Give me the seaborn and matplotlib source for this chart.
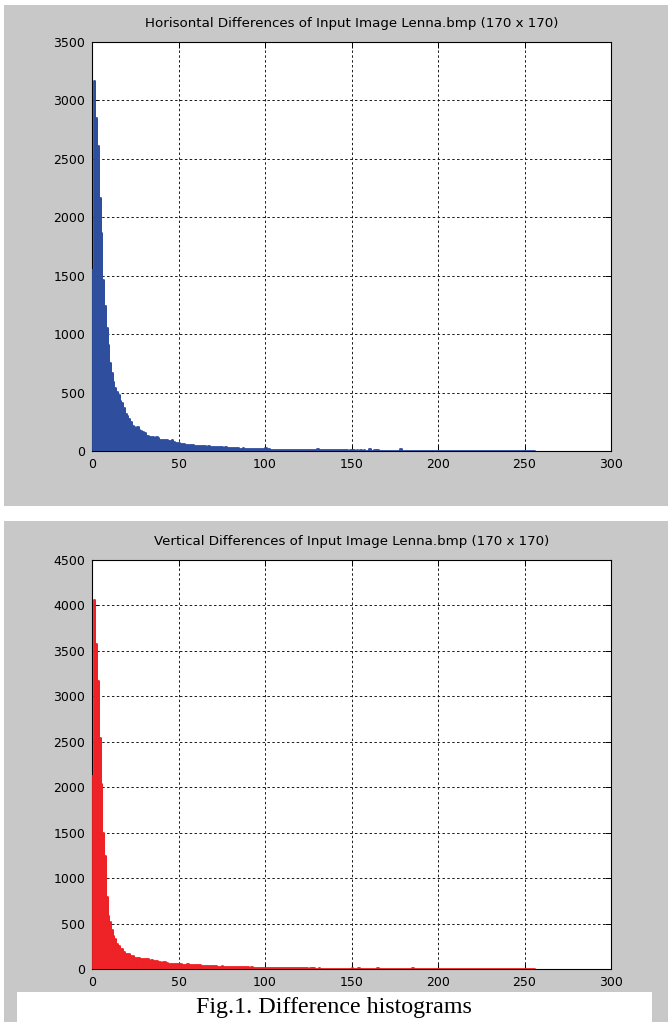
import numpy as np
import pandas as pd
import matplotlib
matplotlib.use("Agg")
import matplotlib.pyplot as plt
import seaborn as sns
from matplotlib.patches import Rectangle

# ---------------- data ----------------
levels = list(range(256))
xticks = [0, 50, 100, 150, 200, 250, 300]
yticks_h = [0, 500, 1000, 1500, 2000, 2500, 3000, 3500]
yticks_v = [0, 500, 1000, 1500, 2000, 2500, 3000, 3500, 4000, 4500]

title_h = "Horisontal Differences of Input Image Lenna.bmp (170 x 170)"
title_v = "Vertical Differences of Input Image Lenna.bmp (170 x 170)"
caption = "Fig.1. Difference histograms"

horizontal_counts = [
    1550, 3170, 2850, 2610, 2165, 1865, 1460, 1240, 1050, 905,
    750, 665, 590, 540, 505, 480, 430, 410, 370, 320,
    300, 275, 250, 215, 205, 200, 205, 180, 175, 165,
    150, 130, 125, 120, 122, 118, 115, 120, 110, 95,
    98, 92, 90, 95, 88, 85, 90, 80, 70, 68,
    66, 62, 60, 58, 52, 55, 50, 48, 52, 46,
    45, 44, 46, 42, 40, 43, 38, 40, 36, 37,
    34, 35, 32, 33, 30, 31, 28, 30, 27, 26,
    27, 24, 25, 22, 23, 21, 20, 22, 19, 18,
    20, 17, 18, 16, 17, 15, 16, 14, 15, 13,
    22, 12, 13, 11, 12, 10, 11, 12, 10, 9,
    10, 11, 9, 10, 8, 9, 10, 8, 9, 8,
    9, 8, 7, 9, 8, 7, 8, 6, 7, 8,
    14, 7, 6, 7, 6, 8, 6, 5, 7, 6,
    6, 5, 6, 5, 7, 12, 5, 6, 4, 5,
    5, 6, 4, 5, 4, 6, 4, 5, 4, 4,
    13, 4, 3, 5, 4, 12, 3, 4, 3, 4,
    3, 4, 3, 2, 3, 4, 2, 3, 14, 2,
    2, 1, 2, 1, 1, 2, 1, 1, 0, 1,
    1, 0, 1, 0, 0, 1, 0, 0, 1, 0,
    0, 0, 1, 0, 0, 0, 0, 1, 0, 0,
    0, 0, 0, 0, 1, 0, 0, 0, 0, 0,
    0, 0, 0, 0, 0, 0, 0, 0, 0, 0,
    0, 0, 0, 0, 0, 0, 0, 0, 0, 0,
    0, 0, 0, 0, 0, 0, 0, 0, 0, 0,
    0, 0, 0, 0, 0, 0,
]

vertical_counts = [
    2120, 4065, 3580, 3170, 2540, 2040, 1500, 1240, 797, 585,
    512, 430, 365, 330, 275, 250, 225, 215, 185, 170,
    165, 160, 140, 140, 125, 120, 118, 122, 115, 110,
    112, 108, 105, 92, 95, 90, 88, 92, 75, 73,
    70, 74, 72, 68, 58, 55, 56, 52, 54, 50,
    55, 52, 45, 44, 42, 50, 43, 42, 40, 44,
    41, 38, 40, 36, 37, 35, 34, 36, 33, 32,
    30, 31, 27, 26, 25, 28, 24, 25, 23, 26,
    24, 22, 21, 20, 19, 20, 18, 19, 17, 18,
    17, 16, 17, 15, 16, 14, 15, 13, 14, 12,
    12, 11, 12, 10, 11, 10, 9, 10, 9, 8,
    9, 8, 9, 8, 7, 8, 7, 8, 7, 6,
    7, 6, 7, 6, 6, 5, 6, 5, 6, 5,
    5, 6, 5, 4, 5, 4, 5, 4, 4, 5,
    4, 3, 4, 4, 3, 4, 3, 4, 3, 3,
    10, 3, 2, 3, 12, 2, 3, 2, 3, 2,
    2, 3, 2, 2, 3, 9, 2, 2, 1, 2,
    2, 1, 2, 1, 2, 1, 1, 2, 1, 1,
    1, 1, 1, 1, 1, 8, 1, 0, 1, 0,
    1, 0, 0, 1, 0, 0, 1, 0, 0, 0,
    0, 1, 0, 0, 0, 0, 0, 1, 0, 0,
    0, 0, 0, 0, 0, 0, 0, 0, 0, 0,
    0, 0, 0, 0, 0, 0, 0, 0, 0, 0,
    0, 0, 0, 0, 0, 0, 0, 0, 0, 0,
    0, 0, 0, 0, 0, 0, 0, 0, 0, 0,
    0, 0, 0, 0, 0, 0,
]

# ---------------- style ----------------
sns.set_theme(style="white")
plt.rcParams["font.family"] = ["DejaVu Sans"]

W, H = 668, 1022
fig = plt.figure(figsize=(W / 100, H / 100), dpi=100, facecolor="white")

grey = "#C8C8C8"
blue = "#2E4E9E"
red = "#EE2226"

fig.patches.append(Rectangle((4 / W, 1 - 506 / H), 1 - 4 / W, 501 / H,
                             transform=fig.transFigure, facecolor=grey,
                             edgecolor="none", zorder=-5))
fig.patches.append(Rectangle((4 / W, 0), 1 - 4 / W, 501 / H,
                             transform=fig.transFigure, facecolor=grey,
                             edgecolor="none", zorder=-5))
fig.patches.append(Rectangle((17 / W, 0), 635 / W, 30 / H,
                             transform=fig.transFigure, facecolor="white",
                             edgecolor="none", zorder=-4))


def panel(rect, counts, color, yticks, title):
    ax = fig.add_axes(rect)
    df = pd.DataFrame({"level": levels, "count": counts})
    sns.histplot(data=df, x="level", weights="count", binwidth=1,
                 binrange=(0, 256), color=color, edgecolor=color,
                 linewidth=0.6, alpha=1, ax=ax)
    # outline (also draws the baseline across empty bins)
    sns.histplot(data=df, x="level", weights="count", binwidth=1,
                 binrange=(0, 256), element="step", fill=False,
                 color=color, linewidth=1.3, ax=ax)
    for p in ax.patches:
        p.set_zorder(3)
    for ln in ax.lines:
        ln.set_zorder(3)
    ax.set_facecolor("white")
    ax.set_xlim(xticks[0], xticks[-1])
    ax.set_ylim(yticks[0], yticks[-1])
    ax.set_xticks(xticks)
    ax.set_yticks(yticks)
    ax.set_xticklabels([str(t) for t in xticks])
    ax.set_yticklabels([str(t) for t in yticks])
    ax.grid(True, linestyle=(0, (2.5, 2.5)), color="#1a1a1a", linewidth=0.7)
    ax.set_axisbelow(True)
    ax.tick_params(direction="in", length=4, width=0.7, top=True,
                   right=True, bottom=True, left=True, labelsize=9,
                   colors="black", pad=5)
    for s in ax.spines.values():
        s.set_visible(True)
        s.set_color("black")
        s.set_linewidth(0.8)
    ax.set_xlabel("")
    ax.set_ylabel("")
    ax.set_title(title, fontsize=9.6, pad=11, color="black")
    return ax


panel([92 / W, 1 - 451 / H, 519 / W, 409 / H], horizontal_counts, blue,
      yticks_h, title_h)
panel([92 / W, 1 - 969 / H, 519 / W, 409 / H], vertical_counts, red,
      yticks_v, title_v)

fig.text(0.5, 1 - 1008 / H, caption, ha="center", va="center",
         fontsize=17.3, family=["Liberation Serif", "DejaVu Serif"],
         color="black")

fig.savefig("out.png", dpi=100, facecolor="white")
